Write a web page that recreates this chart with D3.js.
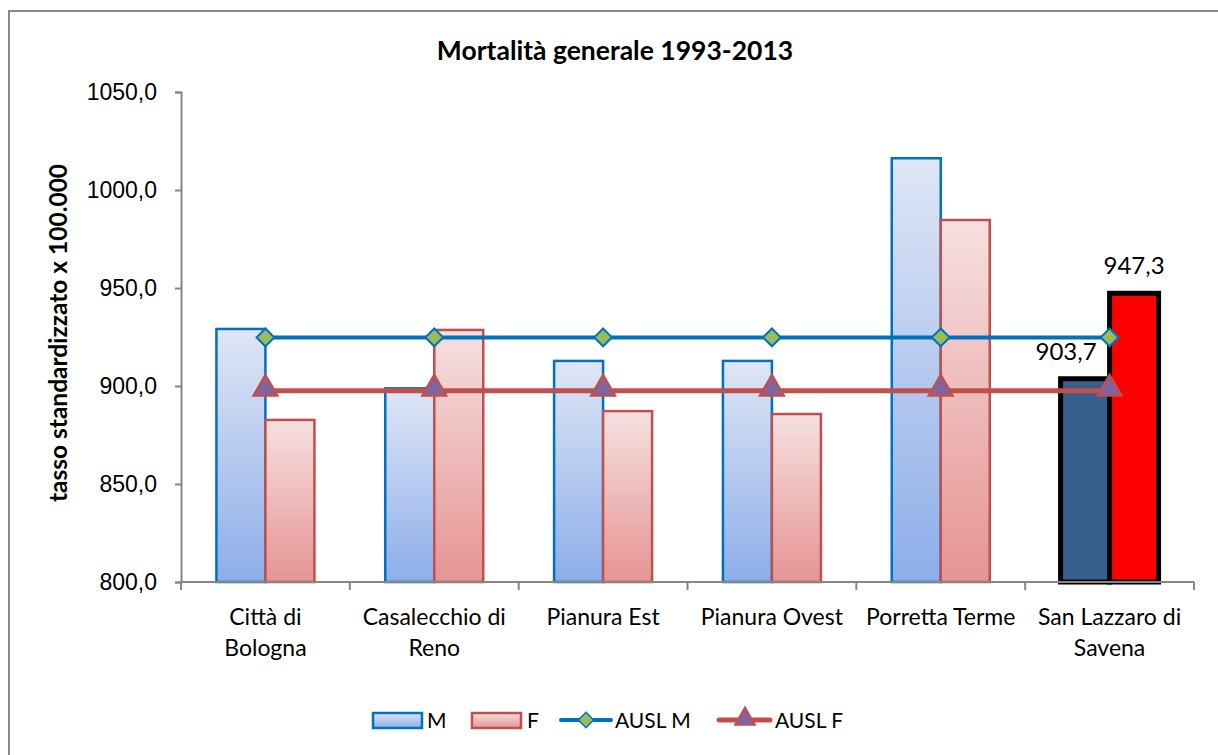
<!DOCTYPE html>
<html lang="it">
<head>
<meta charset="UTF-8">
<title>Mortalità generale 1993-2013</title>
<style>
  body { margin: 0; background: #fff; }
  svg { display: block; font-family: Lato, "Open Sans", sans-serif; }
</style>
</head>
<body>
<script src="https://d3js.org/d3.v7.min.js"></script>
<script>
// data
const categories = ["Città di Bologna", "Casalecchio di Reno", "Pianura Est", "Pianura Ovest", "Porretta Terme", "San Lazzaro di Savena"];
const catLines = [["Città di", "Bologna"], ["Casalecchio di", "Reno"], ["Pianura Est"], ["Pianura Ovest"], ["Porretta Terme"], ["San Lazzaro di", "Savena"]];
const valM = [929.1, 898.8, 912.8, 912.8, 1016.2, 903.7];
const valF = [882.7, 928.6, 887.2, 885.7, 984.7, 947.3];
const auslM = [924.8, 924.8, 924.8, 924.8, 924.8, 924.8];
const auslF = [897.6, 897.6, 897.6, 897.6, 897.6, 897.6];
const yTicks = [800, 850, 900, 950, 1000, 1050];
const highlight = "San Lazzaro di Savena";

const W = 1218, H = 755;
const svg = d3.select("body").append("svg").attr("width", W).attr("height", H);

const defs = svg.append("defs");
const grad = (id, top, bot) => {
  const g = defs.append("linearGradient").attr("id", id).attr("x1", 0).attr("y1", 0).attr("x2", 0).attr("y2", 1);
  g.append("stop").attr("offset", "0%").attr("stop-color", top);
  g.append("stop").attr("offset", "100%").attr("stop-color", bot);
};
grad("gM", "#dfe6f5", "#8daee9");
grad("gF", "#f6e0e0", "#e59493");

// outer frame (right/bottom edges fall off the picture)
svg.append("path").attr("d", `M9,${H + 5} V11 H${W + 5}`)
  .attr("fill", "none").attr("stroke", "#8a8a8a").attr("stroke-width", 2);

const y = d3.scaleLinear().domain([800, 1050]).range([582, 92]);
const x = d3.scaleBand().domain(categories).range([181, 1194]).padding(0);
const bw = 49;
const cx = c => x(c) + x.bandwidth() / 2;
const fmt = v => d3.format(".1f")(v).replace(".", ",");

// title
svg.append("text").attr("x", 615).attr("y", 60).attr("text-anchor", "middle")
  .style("font-size", "26.5px").style("font-weight", "bold").text("Mortalità generale 1993-2013");

// y axis
const yAxis = svg.append("g").attr("transform", "translate(181,0)")
  .call(d3.axisLeft(y).tickValues(yTicks).tickFormat(fmt).tickSize(6).tickPadding(18));
yAxis.select(".domain").attr("stroke", "#868686").attr("stroke-width", 2);
yAxis.selectAll(".tick line").attr("stroke", "#868686").attr("stroke-width", 2);
yAxis.selectAll(".tick text").style("font-size", "23px").attr("fill", "#000");

svg.append("text").attr("transform", "translate(67,333) rotate(-90)").attr("text-anchor", "middle")
  .style("font-size", "24.5px").style("font-weight", "bold").text("tasso standardizzato x 100.000");

// bars
const bars = svg.append("g");
categories.forEach((c, i) => {
  const hi = c === highlight;
  bars.append("rect").attr("x", cx(c) - bw).attr("y", y(valM[i])).attr("width", bw).attr("height", y(800) - y(valM[i]))
    .attr("fill", hi ? "#385e8d" : "url(#gM)").attr("stroke", hi ? "#000" : "#0070c0").attr("stroke-width", hi ? 5 : 2.5);
  bars.append("rect").attr("x", cx(c)).attr("y", y(valF[i])).attr("width", bw).attr("height", y(800) - y(valF[i]))
    .attr("fill", hi ? "#ff0000" : "url(#gF)").attr("stroke", hi ? "#000" : "#c0504d").attr("stroke-width", hi ? 5 : 2.5);
});

// x axis
const xAxis = svg.append("g").attr("transform", `translate(0,${y(800)})`);
xAxis.append("line").attr("x1", 181).attr("x2", 1194).attr("stroke", "#868686").attr("stroke-width", 2);
const bounds = categories.map(c => x(c)).concat([x.range()[1]]);
xAxis.selectAll("line.tk").data(bounds).enter().append("line").attr("class", "tk")
  .attr("x1", d => d).attr("x2", d => d).attr("y1", 0).attr("y2", 8).attr("stroke", "#868686").attr("stroke-width", 2);
categories.forEach((c, i) => {
  const t = svg.append("text").attr("text-anchor", "middle").style("font-size", "23px");
  catLines[i].forEach((ln, j) => t.append("tspan").attr("x", cx(c)).attr("y", 625 + j * 31).text(ln));
});

// AUSL lines
const line = d3.line().x((d, i) => cx(categories[i])).y(d => y(d));
svg.append("path").datum(auslM).attr("d", line).attr("fill", "none").attr("stroke", "#0070c0").attr("stroke-width", 4);
svg.append("path").datum(auslF).attr("d", line).attr("fill", "none").attr("stroke", "#c0504d").attr("stroke-width", 5);

const diamond = d3.symbol().type(d3.symbolDiamond2).size(200);
const tri = d3.symbol().type(d3.symbolTriangle).size(240);
svg.append("g").selectAll("path").data(auslM).enter().append("path")
  .attr("transform", (d, i) => `translate(${cx(categories[i])},${y(d)})`).attr("d", diamond)
  .attr("fill", "#9bbb59").attr("stroke", "#0070c0").attr("stroke-width", 2);
svg.append("g").selectAll("path").data(auslF).enter().append("path")
  .attr("transform", (d, i) => `translate(${cx(categories[i])},${y(d) - 2})`).attr("d", tri)
  .attr("fill", "#8064a2").attr("stroke", "#c0504d").attr("stroke-width", 2.5);

// data labels for highlighted district
const hi = categories.indexOf(highlight);
svg.append("text").attr("x", cx(highlight) - bw / 2 - 19).attr("y", y(valM[hi]) - 19).attr("text-anchor", "middle")
  .style("font-size", "24px").text(fmt(valM[hi]));
svg.append("text").attr("x", cx(highlight) + bw / 2).attr("y", y(valF[hi]) - 19).attr("text-anchor", "middle")
  .style("font-size", "24px").text(fmt(valF[hi]));

// legend
const lg = svg.append("g").style("font-size", "21px");
lg.append("rect").attr("x", 373).attr("y", 713).attr("width", 49).attr("height", 15).attr("fill", "url(#gM)").attr("stroke", "#0070c0").attr("stroke-width", 2.5);
lg.append("text").attr("x", 427).attr("y", 728).text("M");
lg.append("rect").attr("x", 472).attr("y", 713).attr("width", 49).attr("height", 15).attr("fill", "url(#gF)").attr("stroke", "#c0504d").attr("stroke-width", 2.5);
lg.append("text").attr("x", 527).attr("y", 728).text("F");
lg.append("line").attr("x1", 561).attr("x2", 611).attr("y1", 720).attr("y2", 720).attr("stroke", "#0070c0").attr("stroke-width", 4).attr("stroke-linecap", "round");
lg.append("path").attr("transform", "translate(586,720)").attr("d", d3.symbol().type(d3.symbolDiamond2).size(150)).attr("fill", "#9bbb59").attr("stroke", "#0070c0").attr("stroke-width", 1.5);
lg.append("text").attr("x", 615).attr("y", 728).text("AUSL M");
lg.append("line").attr("x1", 719).attr("x2", 770).attr("y1", 720).attr("y2", 720).attr("stroke", "#c0504d").attr("stroke-width", 5).attr("stroke-linecap", "round");
lg.append("path").attr("transform", "translate(745,719)").attr("d", d3.symbol().type(d3.symbolTriangle).size(170)).attr("fill", "#8064a2").attr("stroke", "#c0504d").attr("stroke-width", 2);
lg.append("text").attr("x", 775).attr("y", 728).text("AUSL F");
</script>
</body>
</html>
